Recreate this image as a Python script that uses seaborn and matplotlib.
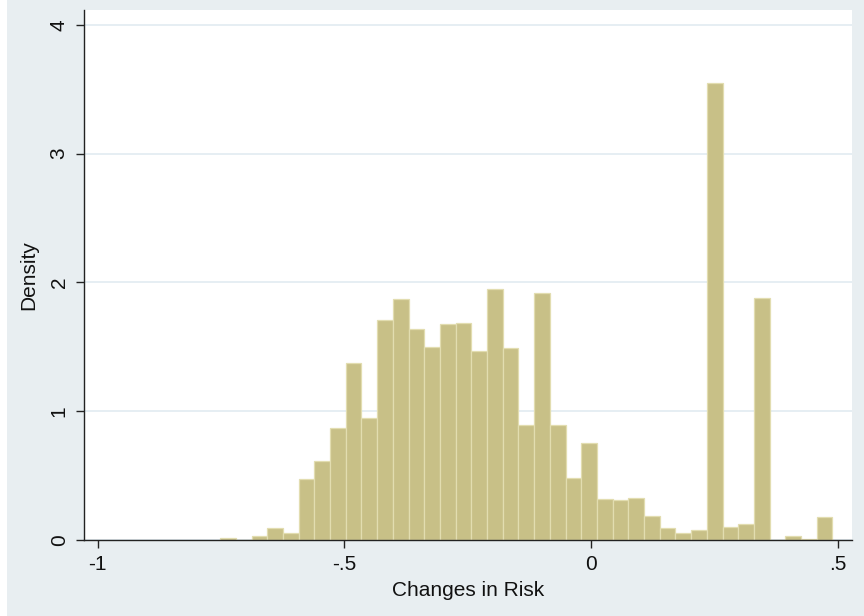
import numpy as np
import pandas as pd
import matplotlib
matplotlib.use("Agg")
import matplotlib.pyplot as plt
import matplotlib.patches as mpatches
import seaborn as sns

# ---- data ----
bin_left = -0.752
bin_width = 0.03183
density = [0.015, 0.0, 0.033, 0.091, 0.057, 0.471, 0.611, 0.872, 1.372, 0.950,
           1.708, 1.871, 1.641, 1.501, 1.675, 1.685, 1.467, 1.946, 1.488, 0.893,
           1.915, 0.893, 0.479, 0.751, 0.318, 0.308, 0.329, 0.186, 0.091, 0.054,
           0.080, 3.546, 0.101, 0.122, 1.881, 0.0, 0.033, 0.008, 0.176]
x_ticks = [-1, -0.5, 0, 0.5]
x_tick_labels = ["-1", "-.5", "0", ".5"]
y_ticks = [0, 1, 2, 3, 4]
y_tick_labels = ["0", "1", "2", "3", "4"]

edges = (bin_left + bin_width * np.arange(len(density) + 1)).tolist()
centers = [(a + b) / 2 for a, b in zip(edges[:-1], edges[1:])]
df = pd.DataFrame({"risk": centers, "density": density})

BG = "#e8eef1"
FILL = "#c8c087"
EDGE = "#e2ddb0"

sns.set_theme(style="white")
plt.rcParams["font.family"] = ["Liberation Sans", "DejaVu Sans"]

fig = plt.figure(figsize=(8.64, 6.16), dpi=100, facecolor=BG)
# thin white margin on the left edge, as in the reference screenshot
fig.patches.append(mpatches.Rectangle((0, 0), 7 / 864, 1, transform=fig.transFigure,
                                      facecolor="white", edgecolor="none", zorder=0))

ax = fig.add_axes([84 / 864, 1 - 540 / 616, (852 - 84) / 864, (540 - 10) / 616])
ax.set_facecolor("white")

sns.histplot(data=df, x="risk", weights="density", bins=edges,
             color=FILL, alpha=1.0, edgecolor=EDGE, linewidth=0.9, ax=ax, zorder=2)

ax.set_xlim(-1.028, 0.529)
ax.set_ylim(0, 4.115)
ax.set_xticks(x_ticks)
ax.set_xticklabels(x_tick_labels)
ax.set_yticks(y_ticks)
ax.set_yticklabels(y_tick_labels, rotation=90, va="center")

ax.yaxis.grid(True, color="#e4edf2", linewidth=1.3, zorder=0)
ax.xaxis.grid(False)
ax.set_axisbelow(True)

for s in ["top", "right"]:
    ax.spines[s].set_visible(False)
for s in ["left", "bottom"]:
    ax.spines[s].set_color("#222222")
    ax.spines[s].set_linewidth(1.0)

ax.tick_params(axis="both", which="major", length=6, width=1.0, color="#222222",
               labelsize=15, labelcolor="#111111", pad=5, direction="out",
               bottom=True, left=True)

ax.set_xlabel("Changes in Risk", fontsize=15, color="#111111", labelpad=5)
ax.set_ylabel("Density", fontsize=15, color="#111111", labelpad=8)

fig.savefig("out.png", dpi=100, facecolor=BG)
